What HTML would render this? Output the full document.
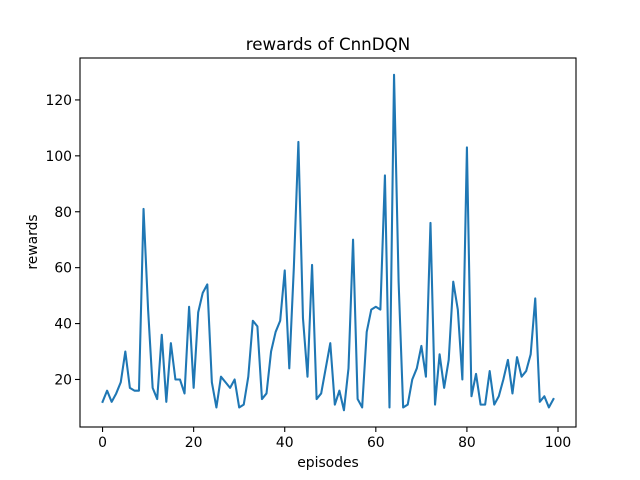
<!DOCTYPE html>
<html><head><meta charset="utf-8"><style>body{margin:0;background:#fff}svg{display:block}text{font-family:"DejaVu Sans","Liberation Sans",sans-serif;fill:#000}</style></head>
<body>
<svg id="s" width="640" height="480" xmlns="http://www.w3.org/2000/svg">
<rect width="640" height="480" fill="#fff"/>
<polyline id="p" fill="none" stroke="#1f77b4" stroke-width="2.08" stroke-linejoin="round" stroke-linecap="square"/>
<rect x="80" y="58" width="496" height="369" fill="none" stroke="#000" stroke-width="1.1"/>
<g id="t" font-size="13.9"></g>
<text x="328" y="50" font-size="16.7" text-anchor="middle">rewards of CnnDQN</text>
<text x="328" y="467" font-size="13.9" text-anchor="middle">episodes</text>
<text transform="translate(37,242) rotate(-90)" font-size="13.9" text-anchor="middle">rewards</text>
</svg>
<script>
var d=[12,16,12,15,19,30,17,16,16,81,45,17,13,36,12,33,20,20,15,46,17,44,51,54,19,10,21,19,17,20,10,11,21,41,39,13,15,30,37,41,59,24,60,105,42,21,61,13,15,24,33,11,16,9,24,70,13,10,37,45,46,45,93,10,129,55,10,11,20,24,32,21,76,11,29,17,27,55,45,20,103,14,22,11,11,23,11,14,20,27,15,28,21,23,29,49,12,14,10,13];
function X(i){return 80+(i+4.95)*496/108.9}
function Y(v){return 427-(v-3)*369/132}
document.getElementById('p').setAttribute('points',d.map(function(v,i){return X(i).toFixed(2)+','+Y(v).toFixed(2)}).join(' '));
var g=document.getElementById('t'),h='';
for(var i=0;i<=100;i+=20){var x=X(i);h+='<line x1="'+x+'" x2="'+x+'" y1="427" y2="432" stroke="#000" stroke-width="1.1"/><text x="'+x+'" y="447" text-anchor="middle">'+i+'</text>';}
for(var v=20;v<=120;v+=20){var y=Y(v);h+='<line x1="75" x2="80" y1="'+y+'" y2="'+y+'" stroke="#000" stroke-width="1.1"/><text x="72" y="'+(y+5)+'" text-anchor="end">'+v+'</text>';}
g.innerHTML=h;
</script>
</body></html>
